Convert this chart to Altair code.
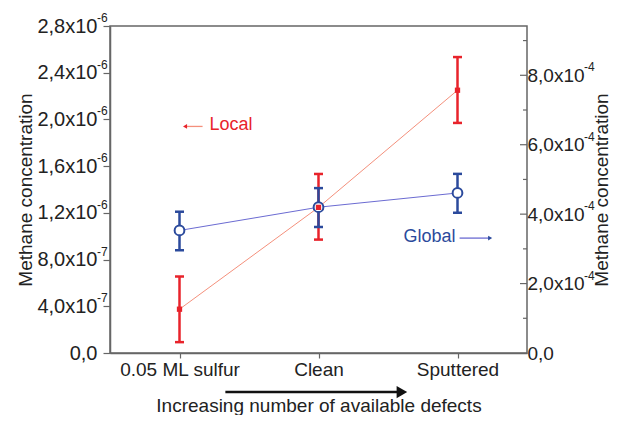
import json
import altair as alt
import pandas as pd

# ---------------- data ----------------
categories = ["0.05 ML sulfur", "Clean", "Sputtered"]
positions = [1, 2, 3]

local_values = [0.375e-6, 1.247e-6, 2.25e-6]
local_low = [0.093e-6, 0.971e-6, 1.97e-6]
local_high = [0.655e-6, 1.533e-6, 2.534e-6]

global_values = [3.53e-4, 4.20e-4, 4.61e-4]
global_low = [2.96e-4, 3.63e-4, 4.04e-4]
global_high = [4.07e-4, 4.75e-4, 5.16e-4]

left_tick_values = [0.0, 0.2e-6, 0.4e-6, 0.6e-6, 0.8e-6, 1.0e-6, 1.2e-6, 1.4e-6,
                    1.6e-6, 1.8e-6, 2.0e-6, 2.2e-6, 2.4e-6, 2.6e-6, 2.8e-6]
left_tick_labels = ["0,0", "", "4,0x10", "", "8,0x10", "", "1,2x10", "", "1,6x10", "",
                    "2,0x10", "", "2,4x10", "", "2,8x10"]
left_exp_values = [0.4e-6, 0.8e-6, 1.2e-6, 1.6e-6, 2.0e-6, 2.4e-6, 2.8e-6]
left_exp_text = ["-7", "-7", "-6", "-6", "-6", "-6", "-6"]

right_tick_values = [0.0, 1e-4, 2e-4, 3e-4, 4e-4, 5e-4, 6e-4, 7e-4, 8e-4, 9e-4]
right_tick_labels = ["0,0", "", "2,0x10", "", "4,0x10", "", "6,0x10", "", "8,0x10", ""]
right_major_ticks = [2e-4, 4e-4, 6e-4, 8e-4]
right_minor_ticks = [1e-4, 3e-4, 5e-4, 7e-4, 9e-4]
right_exp_values = [2e-4, 4e-4, 6e-4, 8e-4]
right_exp_text = ["-4", "-4", "-4", "-4"]

axis_title = "Methane concentration"
x_title = "Increasing number of available defects"

# annotations (in data units)
local_note = {"x": [1.216], "y": [1.95e-6], "text": ["Local"]}
local_arrow = {"x": [1.166], "x2": [1.04], "y": [1.94e-6]}
global_note = {"x": [2.612], "y": [3.33e-4], "text": ["Global"]}
global_arrow = {"x": [3.015], "x2": [3.235], "y": [3.31e-4]}
defects_arrow = {"x": [1.33], "x2": [2.6], "y": [-0.335e-6]}

# ---------------- styles ----------------
RED = "#e8232b"
RED_LINE = "#f4907c"
BLUE = "#2b4a9c"
BLUE_LINE = "#6b6bd2"
FONT = "Liberation Sans"
TXT = "#222"
AXIS = "#666"

df = pd.DataFrame({
    "pos": positions, "cat": categories,
    "local": local_values, "local_low": local_low, "local_high": local_high,
    "glob": global_values, "glob_low": global_low, "glob_high": global_high,
})

x_labels = json.dumps([""] + categories)
xscale = alt.Scale(domain=[0.5, 3.5], nice=False, zero=False)
xenc = alt.X("pos:Q", scale=xscale, axis=alt.Axis(
    values=positions, labelExpr=f"{x_labels}[datum.value]", title=x_title,
    grid=False, tickSize=5, labelPadding=2, titlePadding=17, labelFontSize=19,
    titleFontSize=19, labelFlush=False, labelOverlap=False))

left_scale = alt.Scale(domain=[0, 2.8e-6], nice=False, zero=True)
right_scale = alt.Scale(domain=[0, 9.42e-4], nice=False, zero=True)

left_axis = alt.Axis(
    values=left_tick_values,
    labelExpr=f"{json.dumps(left_tick_labels)}[round(datum.value/2e-7)]",
    title=axis_title, grid=False, labelFlush=False, labelOverlap=False,
    tickSize={"condition": {"test": "round(datum.value/2e-7) % 2 == 0", "value": 7}, "value": 4},
    labelPadding=6, titlePadding=1, labelFontSize=20, titleFontSize=19)

right_axis = alt.Axis(
    orient="right", values=right_tick_values,
    labelExpr=f"{json.dumps(right_tick_labels)}[round(datum.value/1e-4)]",
    title=axis_title, titleAngle=270, titleBaseline="top", grid=False,
    labelFlush=False, labelOverlap=False,
    domain=False, ticks=False, tickSize=0, labelPadding=0, titlePadding=8,
    labelFontSize=19, titleFontSize=19)

base = alt.Chart(df)

# ---- group A: local (left axis)
red_line = base.mark_line(color=RED_LINE, strokeWidth=1).encode(
    x=xenc, y=alt.Y("local:Q", scale=left_scale, axis=left_axis))
red_err = base.mark_rule(color=RED, strokeWidth=2.5).encode(
    x="pos:Q", y="local_low:Q", y2="local_high:Q")
red_cap_hi = base.mark_tick(color=RED, orient="horizontal", size=9, thickness=2.5, opacity=1).encode(
    x="pos:Q", y="local_high:Q")
red_cap_lo = base.mark_tick(color=RED, orient="horizontal", size=9, thickness=2.5, opacity=1).encode(
    x="pos:Q", y="local_low:Q")
local_text = alt.Chart(pd.DataFrame(local_note)).mark_text(
    align="left", baseline="middle", fontSize=18, font=FONT, color=RED).encode(
    x="x:Q", y="y:Q", text="text:N")
la = pd.DataFrame(local_arrow)
local_arrow_line = alt.Chart(la).mark_rule(color=RED_LINE, strokeWidth=1.3).encode(
    x="x:Q", x2="x2:Q", y="y:Q")
local_arrow_head = alt.Chart(la).mark_point(
    shape="triangle-left", size=22, filled=True, color=RED, opacity=1).encode(x="x2:Q", y="y:Q")
da = pd.DataFrame(defects_arrow)
defects_line = alt.Chart(da).mark_rule(color="#111", strokeWidth=2.5, clip=False).encode(
    x="x:Q", x2="x2:Q", y="y:Q")
defects_head = alt.Chart(da).mark_point(
    shape="triangle-right", size=150, filled=True, color="#111", opacity=1, clip=False).encode(
    x="x2:Q", y="y:Q")
left_exp = alt.Chart(pd.DataFrame({"v": left_exp_values, "t": left_exp_text, "edge": 0.5})).mark_text(
    align="left", baseline="middle", fontSize=12, font=FONT, color=TXT, dx=-13, dy=-8, clip=False).encode(
    x="edge:Q", y="v:Q", text="t:N")

group_a = alt.layer(red_line, red_err, red_cap_hi, red_cap_lo, local_text,
                    local_arrow_line, local_arrow_head, defects_line, defects_head, left_exp)

# ---- group B: global (right axis)
blue_line = base.mark_line(color=BLUE_LINE, strokeWidth=1).encode(
    x="pos:Q", y=alt.Y("glob:Q", scale=right_scale, axis=right_axis))
blue_err = base.mark_rule(color=BLUE, strokeWidth=2.5).encode(
    x="pos:Q", y="glob_low:Q", y2="glob_high:Q")
blue_cap_hi = base.mark_tick(color=BLUE, orient="horizontal", size=9, thickness=2.5, opacity=1).encode(
    x="pos:Q", y="glob_high:Q")
blue_cap_lo = base.mark_tick(color=BLUE, orient="horizontal", size=9, thickness=2.5, opacity=1).encode(
    x="pos:Q", y="glob_low:Q")
blue_pts = base.mark_point(shape="circle", size=95, filled=True, fill="white",
                           stroke=BLUE, strokeWidth=2, opacity=1).encode(x="pos:Q", y="glob:Q")
global_text = alt.Chart(pd.DataFrame(global_note)).mark_text(
    align="left", baseline="middle", fontSize=18, font=FONT, color=BLUE).encode(
    x="x:Q", y="y:Q", text="text:N")
ga = pd.DataFrame(global_arrow)
global_arrow_line = alt.Chart(ga).mark_rule(color=BLUE_LINE, strokeWidth=1.3).encode(
    x="x:Q", x2="x2:Q", y="y:Q")
global_arrow_head = alt.Chart(ga).mark_point(
    shape="triangle-right", size=22, filled=True, color=BLUE, opacity=1).encode(x="x2:Q", y="y:Q")
right_exp = alt.Chart(pd.DataFrame({"v": right_exp_values, "t": right_exp_text, "edge": 3.5})).mark_text(
    align="left", baseline="middle", fontSize=12, font=FONT, color=TXT, dx=57, dy=-8, clip=False).encode(
    x="edge:Q", y="v:Q", text="t:N")
# inward ticks on the right axis
right_major = alt.Chart(pd.DataFrame({"v": right_major_ticks, "edge": 3.5})).mark_tick(
    orient="horizontal", size=7, thickness=1.2, color=AXIS, opacity=1, xOffset=-3.5).encode(
    x="edge:Q", y="v:Q")
right_minor = alt.Chart(pd.DataFrame({"v": right_minor_ticks, "edge": 3.5})).mark_tick(
    orient="horizontal", size=4, thickness=1.2, color=AXIS, opacity=1, xOffset=-2).encode(
    x="edge:Q", y="v:Q")

group_b = alt.layer(blue_line, blue_err, blue_cap_hi, blue_cap_lo, blue_pts,
                    global_text, global_arrow_line, global_arrow_head, right_exp,
                    right_major, right_minor)

# ---- group C: red centre squares on top (same mapping as left axis)
red_pts = base.mark_square(size=28, color=RED, opacity=1).encode(
    x="pos:Q", y=alt.Y("local:Q", scale=alt.Scale(domain=[0, 2.8e-6], nice=False, zero=True), axis=None))

chart = alt.layer(group_a, group_b, red_pts).resolve_scale(y="independent").properties(
    width=604, height=407,
    autosize=alt.AutoSizeParams(type="fit", contains="padding"),
    padding={"left": 8, "top": 4, "right": 0, "bottom": 0}
).configure_axis(
    labelFont=FONT, titleFont=FONT, labelColor=TXT, titleColor=TXT,
    titleFontWeight="normal", tickColor=AXIS, domainColor=AXIS,
    domainWidth=1.5, tickWidth=1.2
).configure_view(stroke=AXIS, strokeWidth=1.5)

chart.save("out.html", embed_options={"renderer": "svg", "actions": False})
